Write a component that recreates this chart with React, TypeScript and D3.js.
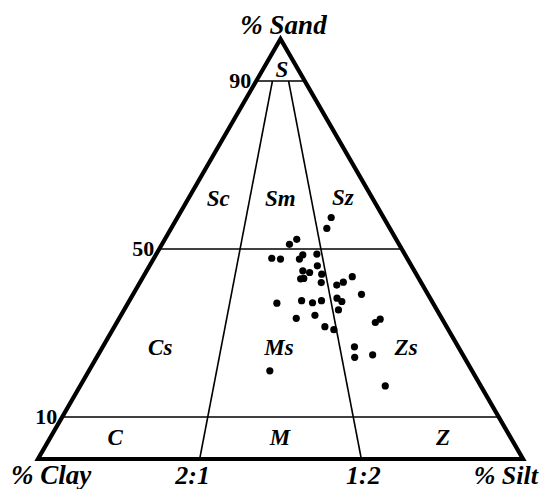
import { useRef, useEffect } from 'react';
import * as d3 from 'd3';

// sample compositions (% sand, % silt; clay is the rest)
const sandPct = [57.5, 54.9, 52.3, 51.1, 47.8, 47.6, 47.6, 48.6, 48.8, 46.0, 44.8, 44.4, 42.9, 43.0, 44.0, 42.0, 41.4, 42.1, 43.4, 39.2,
  37.1, 37.7, 37.2, 37.7, 38.3, 37.5, 35.5, 33.5, 34.2, 31.5, 30.8, 32.5, 33.3, 26.7, 24.2, 24.8, 21.0, 17.4];
const siltPct = [31.7, 32.1, 27.2, 26.3, 24.3, 26.2, 30.1, 30.3, 33.1, 34.6, 32.2, 33.8, 32.7, 33.3, 36.5, 37.4, 40.9, 41.9, 43.1, 47.1,
  30.7, 35.5, 38.0, 39.6, 42.5, 43.9, 44.2, 36.5, 40.0, 43.4, 45.6, 53.3, 53.9, 51.9, 53.2, 56.6, 37.3, 62.9];

// class boundaries
const sandLevels = [10, 50, 90];
const ratioLabels = ['2:1', '1:2'];
const ratioSilt = [100 / 3, 200 / 3]; // silt share of the mud at the base

// class names and where they sit (sand, silt)
const classNames = ['S', 'Sc', 'Sm', 'Sz', 'Cs', 'Ms', 'Zs', 'C', 'M', 'Z'];
const classSand = [92.6, 61.9, 61.9, 62.1, 26.4, 26.4, 26.4, 5, 5, 5];
const classSilt = [4.0, 6.2, 19.0, 31.8, 12.0, 36.5, 62.7, 13.4, 47.4, 81.0];

export default function App() {
  const svgRef = useRef<SVGSVGElement>(null);

  useEffect(() => {
    const w = 541, h = 489;
    const m = { l: 38, r: 18, b: 30 };
    const base = h - m.b;
    const side = w - m.l - m.r;
    const ht = side * Math.sqrt(3) / 2;

    const x = d3.scaleLinear().domain([0, 100]).range([m.l, m.l + side]);
    const y = d3.scaleLinear().domain([0, 100]).range([base, base - ht]);
    const px = (s: number, z: number) => x(z + s / 2);

    const svg = d3.select(svgRef.current)
      .attr('width', w)
      .attr('height', h)
      .style('font-family', '"Liberation Serif", "Times New Roman", serif')
      .style('font-weight', 'bold');
    svg.selectAll('*').remove();

    const g = svg.append('g');

    // horizontal sand lines
    g.selectAll('line.lvl')
      .data(sandLevels)
      .join('line')
        .attr('class', 'lvl')
        .attr('x1', s => px(s, 0)).attr('x2', s => px(s, 100 - s))
        .attr('y1', s => y(s)).attr('y2', s => y(s))
        .attr('stroke', '#000').attr('stroke-width', 1.6);

    // clay:silt ratio lines, base to 90 % sand
    g.selectAll('line.ratio')
      .data(ratioSilt)
      .join('line')
        .attr('class', 'ratio')
        .attr('x1', f => px(0, f)).attr('y1', y(0))
        .attr('x2', f => px(90, f * 0.1)).attr('y2', y(90))
        .attr('stroke', '#000').attr('stroke-width', 1.6);

    // outline
    g.append('path')
      .attr('d', d3.line()([[px(0, 0), y(0)], [px(0, 100), y(0)], [px(100, 0), y(100)]]) + 'Z')
      .attr('fill', 'none')
      .attr('stroke', '#000')
      .attr('stroke-width', 4.2)
      .attr('stroke-linejoin', 'miter');

    // samples
    g.selectAll('circle')
      .data(sandPct)
      .join('circle')
        .attr('cx', (s, i) => px(s, siltPct[i]))
        .attr('cy', s => y(s))
        .attr('r', 3.6)
        .attr('fill', '#000');

    // class names
    g.selectAll('text.cls')
      .data(classNames)
      .join('text')
        .attr('class', 'cls')
        .attr('x', (d, i) => px(classSand[i], classSilt[i]))
        .attr('y', (d, i) => y(classSand[i]) + 7)
        .attr('text-anchor', 'middle')
        .style('font-style', 'italic')
        .style('font-size', '23px')
        .text(d => d);

    // sand tick labels
    g.selectAll('text.lvl')
      .data(sandLevels)
      .join('text')
        .attr('class', 'lvl')
        .attr('x', s => px(s, 0) - 5)
        .attr('y', s => y(s) + 7)
        .attr('text-anchor', 'end')
        .style('font-size', '22px')
        .text(s => s);

    // ratio labels
    g.selectAll('text.ratio')
      .data(ratioLabels)
      .join('text')
        .attr('class', 'ratio')
        .attr('x', (d, i) => px(0, ratioSilt[i]) + (i === 0 ? -7 : 2))
        .attr('y', base + 25)
        .attr('text-anchor', 'middle')
        .style('font-style', 'italic')
        .style('font-size', '26px')
        .text(d => d);

    // corner titles
    const corner = (t: string, tx: number, ty: number, anchor: string, size = 27) =>
      svg.append('text')
        .attr('x', tx).attr('y', ty)
        .attr('text-anchor', anchor)
        .style('font-style', 'italic')
        .style('font-size', size + 'px')
        .text(t);
    corner('% Sand', px(100, 0) + 3, y(100) - 5, 'middle');
    corner('% Clay', 11, base + 25, 'start');
    corner('% Silt', w - 3, base + 25, 'end', 26);
  }, []);

  return (
    <div style={{ position: 'absolute', left: 0, top: 0 }}>
      <svg ref={svgRef}></svg>
    </div>
  );
}
